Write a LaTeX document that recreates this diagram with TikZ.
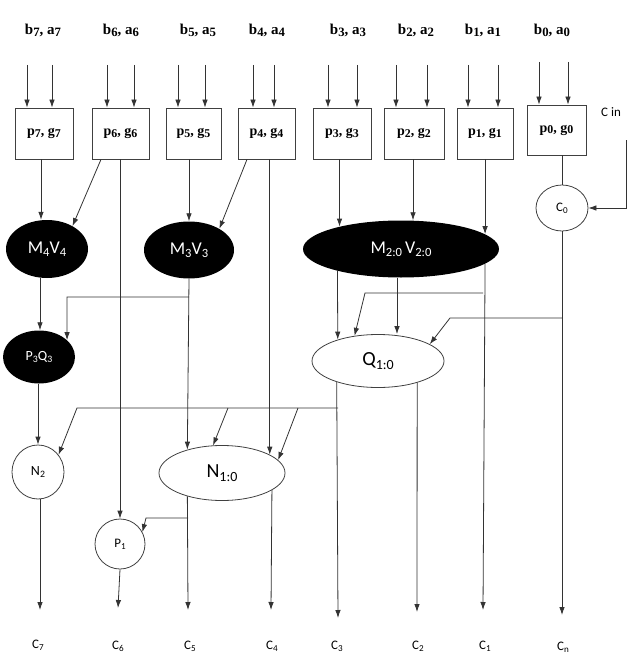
\documentclass[tikz,border=0pt]{standalone}
\usepackage{fontspec}
\usepackage{graphicx}
\setmainfont{Liberation Serif}
\newfontfamily\calib{Carlito}
\usetikzlibrary{shapes.geometric,arrows.meta}
\newcommand\lo[1]{\raisebox{-0.3ex}{\scalebox{0.85}{#1}}}
\newcommand\sbs[1]{\raisebox{-0.35ex}{\scalebox{0.7}{#1}}}
\begin{document}
\begin{tikzpicture}[x=1pt,y=-1pt,
  ln/.style={draw=black!80,line width=0.8pt},
  arr/.style={ln,-{Latex[length=8pt,width=5.5pt]}},
  inlbl/.style={font=\bfseries\fontsize{15}{15}\selectfont,inner sep=0pt},
  pgbox/.style={draw=black!75,line width=0.8pt,minimum height=51pt,inner sep=0pt,font=\bfseries\fontsize{14}{14}\selectfont},
  blk/.style={ellipse,fill=black,text=white,inner sep=0pt,font=\calib\fontsize{18}{18}\selectfont},
  wht/.style={ellipse,draw=black!75,line width=0.8pt,inner sep=0pt,font=\calib\fontsize{18}{18}\selectfont},
  outl/.style={font=\calib\fontsize{13}{13}\selectfont,inner sep=0pt}]
\useasboundingbox (0,0) rectangle (636,658);

% top labels
\node[inlbl] (l7) at (43,30) {b\lo{7}, a\lo{7}};
\node[inlbl] (l6) at (121,30) {b\lo{6}, a\lo{6}};
\node[inlbl] (l5) at (198,30) {b\lo{5}, a\lo{5}};
\node[inlbl] (l4) at (267,30) {b\lo{4}, a\lo{4}};
\node[inlbl] (l3) at (348,30) {b\lo{3}, a\lo{3}};
\node[inlbl] (l2) at (416,30) {b\lo{2}, a\lo{2}};
\node[inlbl] (l1) at (483,30) {b\lo{1}, a\lo{1}};
\node[inlbl] (l0) at (552,30) {b\lo{0}, a\lo{0}};

% p,g boxes
\node[pgbox,minimum width=58pt] (pg7) at (44,133.5) {p\lo{7}, g\lo{7}};
\node[pgbox,minimum width=57pt] (pg6) at (120.5,133.5) {p\lo{6}, g\lo{6}};
\node[pgbox,minimum width=55pt] (pg5) at (193.5,133.5) {p\lo{5}, g\lo{5}};
\node[pgbox,minimum width=57pt] (pg4) at (266.5,133.5) {p\lo{4}, g\lo{4}};
\node[pgbox,minimum width=58pt] (pg3) at (342,133.5) {p\lo{3}, g\lo{3}};
\node[pgbox,minimum width=60pt] (pg2) at (414,133.5) {p\lo{2}, g\lo{2}};
\node[pgbox,minimum width=56pt] (pg1) at (485,133.5) {p\lo{1}, g\lo{1}};
\node[pgbox,minimum width=59pt,minimum height=50pt] (pg0) at (556.5,130) {p\lo{0}, g\lo{0}};

% input arrows
\foreach \x/\b in {27/pg7,52/pg7,107/pg6,134/pg6,178/pg5,205/pg5,253/pg4,274/pg4,328/pg3,357/pg3,396/pg2,427/pg2,468/pg1,498/pg1}{
  \coordinate (in\x) at (\x,65);
  \draw[arr] (in\x) -- (in\x |- \b.north);
}
\foreach \x in {539,568}{
  \coordinate (in\x) at (\x,62);
  \draw[arr] (in\x) -- (in\x |- pg0.north);
}

% group nodes
\node[blk,minimum width=82pt,minimum height=58pt] (M4) at (47,249) {M\sbs{4}V\sbs{4}};
\node[blk,minimum width=90pt,minimum height=57pt] (M3) at (189,250) {M\sbs{3}V\sbs{3}};
\node[blk,minimum width=196pt,minimum height=57pt] (M2) at (401,249) {M\sbs{2:0}\,V\sbs{2:0}};
\node[blk,minimum width=72pt,minimum height=53pt,font=\calib\fontsize{14}{14}\selectfont] (P3) at (39,357) {P\sbs{3}Q\sbs{3}};
\node[wht,minimum width=132pt,minimum height=53pt,font=\calib\fontsize{20}{20}\selectfont] (Q) at (378,361) {Q\sbs{1:0}};
\node[wht,minimum width=126pt,minimum height=55pt,font=\calib\fontsize{20}{20}\selectfont] (N1) at (222,473) {N\sbs{1:0}};
\node[wht,minimum width=52pt,minimum height=54pt,font=\calib\fontsize{14}{14}\selectfont] (N2) at (38,472) {N\sbs{2}};
\node[wht,minimum width=52pt,minimum height=46pt,font=\calib\fontsize{13}{13}\selectfont] (C0) at (562,208) {C\sbs{0}};
\node[wht,minimum width=50pt,minimum height=50pt,font=\calib\fontsize{13}{13}\selectfont] (P1) at (120,544) {P\sbs{1}};

% carry in
\node[outl,anchor=west] (cin) at (601,112) {C in};
\coordinate (cs) at (626,140);
\draw[arr] (cs) |- (C0.east);

% outputs labels
\node[outl] (c7) at (38,645) {C\sbs{7}};
\node[outl] (c6) at (118,646) {C\sbs{6}};
\node[outl] (c5) at (190,646) {C\sbs{5}};
\node[outl] (c4) at (272,646) {C\sbs{4}};
\node[outl] (c3) at (337,646) {C\sbs{3}};
\node[outl] (c2) at (418,646) {C\sbs{2}};
\node[outl] (c1) at (485,646) {C\sbs{1}};
\node[outl] (cn) at (563,647) {C\sbs{n}};

% level 1 connections
\draw[arr] (41,0 |- pg7.south) -- (41,0 |- M4.north);
\draw[arr] (101,0 |- pg6.south) -- (M4.42);
\draw[arr] (pg5.south -| M3.north) -- (M3.north);
\draw[arr] (247,0 |- pg4.south) -- (M3.35);
\draw[arr] (M2.160.7 |- pg3.south) -- (M2.160.7);
\draw[arr] (413,0 |- pg2.south) -- (413,0 |- M2.north);
\draw[arr] (M2.10.8 |- pg1.south) -- (M2.10.8);
\draw[ln] (C0.north |- pg0.south) -- (C0.north);

% pass-through lines
\draw[arr] (P1.north |- pg6.south) -- (P1.north);
\draw[arr] (N1.21 |- pg4.south) -- (N1.21);

% level 2
\draw[arr] (40,0 |- M4.south) -- (40,0 |- P3.north);
\coordinate (j3) at (189,297);
\draw[arr] (M3.south) -- (N1.146);
\draw[arr] (j3) -- (67,297) -- (P3.31);

\coordinate (e1) at (483,610);
\draw[arr] (M2.-10.8) -- (e1);
\draw[arr] (M2.199.3) -- (Q.152.2);
\draw[arr] (397,0 |- M2.south) -- (397,0 |- Q.north);
\coordinate (j1) at (483,293);
\draw[arr] (j1) -- (365,293) -- (Q.133);
\coordinate (en) at (562,615);
\draw[arr] (C0.south) -- (en);
\coordinate (j0) at (562,318);
\draw[arr] (j0) -- (450,318) -- (Q.18);

% level 3
\coordinate (e3) at (338,618);
\draw[arr] (Q.207.8) -- (e3);
\coordinate (e2) at (417,612);
\draw[arr] (Q.-29) -- (e2);
\coordinate (jq) at (338,408);
\draw[arr] (jq) -- (77,408) -- (N2.40);
\draw[arr] (228,408) -- (N1.108);
\draw[arr] (298,408) -- (N1.13);

\draw[arr] (38,0 |- P3.south) -- (N2.north);
\coordinate (e7) at (40,610);
\draw[arr] (40,0 |- N2.south) -- (e7);

% level 4
\coordinate (e5) at (188,610);
\draw[arr] (N1.-146) -- (e5);
\coordinate (jn) at (188,518);
\draw[arr] (jn) -- (146,518) -- (P1.28);
\coordinate (e4) at (271,610);
\draw[arr] (N1.-19) -- (e4);
\coordinate (e6b) at (118,608);
\draw[arr] (P1.south) -- (e6b);
\end{tikzpicture}
\end{document}
